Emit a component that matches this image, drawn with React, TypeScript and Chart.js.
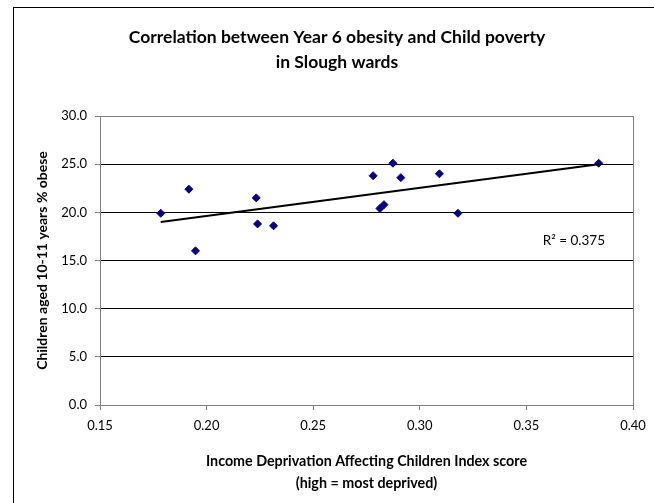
import React, { useEffect, useRef } from "react";
import { Chart, registerables } from "chart.js";

Chart.register(...registerables);

// ---- data ----
const xValues = [0.1785, 0.1917, 0.1948, 0.2233, 0.2239, 0.2314, 0.2781, 0.2813, 0.2832, 0.2874, 0.2911, 0.3092, 0.3179, 0.3839];
const yValues = [19.9, 22.4, 16.0, 21.5, 18.8, 18.6, 23.8, 20.4, 20.8, 25.1, 23.6, 24.0, 19.9, 25.1];
const trendX = [0.1785, 0.3839];
const trendY = [19.0, 25.0];
const titleLines = ["Correlation between Year 6 obesity and Child poverty", "in Slough wards"];
const xTitleLines = ["Income Deprivation Affecting Children Index score", "(high = most deprived)"];
const yTitle = "Children aged 10-11 years % obese";
const r2Label = "R\u00B2 = 0.375";
const xMin = 0.15, xMax = 0.4, xStep = 0.05;
const yMin = 0, yMax = 30, yStep = 5;

const FONT = "Lato, 'Open Sans', sans-serif";

const r2Plugin = {
  id: "r2label",
  afterDatasetsDraw(chart: any) {
    const { ctx, scales } = chart;
    const x = scales.x, y = scales.y;
    ctx.save();
    ctx.font = `13.5px ${FONT}`;
    ctx.fillStyle = "#000";
    ctx.textAlign = "left";
    ctx.textBaseline = "middle";
    ctx.fillText(r2Label, x.getPixelForValue(0.3577), y.getPixelForValue(17.1));
    ctx.restore();
  },
};

export default function App() {
  const ref = useRef<HTMLCanvasElement | null>(null);

  useEffect(() => {
    if (!ref.current) return;
    const points = xValues.map((v, i) => ({ x: v, y: yValues[i] }));
    const trend = trendX.map((v, i) => ({ x: v, y: trendY[i] }));
    const chart = new Chart(ref.current, {
      type: "scatter",
      data: {
        datasets: [
          {
            type: "line",
            data: trend,
            borderColor: "#000",
            borderWidth: 2,
            pointRadius: 0,
            fill: false,
            order: 0,
          } as any,
          {
            type: "scatter",
            data: points,
            pointStyle: "rectRot",
            pointRadius: 4,
            pointBorderWidth: 1,
            backgroundColor: "#000080",
            borderColor: "#000080",
            order: 1,
          } as any,
        ],
      },
      options: {
        responsive: false,
        animation: false,
        layout: { padding: 0 },
        plugins: {
          legend: { display: false },
          tooltip: { enabled: false },
          title: {
            display: true,
            text: titleLines,
            color: "#000",
            font: { family: FONT, size: 17.5, weight: "bold", lineHeight: 25 / 17.5 },
            padding: { top: 16.5, bottom: 41.5 },
          },
        },
        scales: {
          x: {
            type: "linear",
            min: xMin,
            max: xMax,
            afterFit: (s: any) => { s.height = 103; },
            ticks: {
              stepSize: xStep,
              color: "#000",
              font: { family: FONT, size: 13 },
              padding: 8,
              callback: (v: any) => Number(v).toFixed(2),
            },
            grid: {
              color: (c: any) => (Math.abs(c.tick?.value - xMax) < 1e-9 ? "#808080" : "rgba(0,0,0,0)"),
              tickColor: "#808080",
              tickLength: 5,
            },
            border: { color: "#808080", width: 1 },
            title: {
              display: true,
              text: xTitleLines,
              color: "#000",
              font: { family: FONT, size: 14.3, weight: "bold", lineHeight: 22 / 14.3 },
              padding: { top: 0, bottom: 14 },
            },
          },
          y: {
            type: "linear",
            min: yMin,
            max: yMax,
            afterFit: (s: any) => { s.width = 86; },
            ticks: {
              stepSize: yStep,
              color: "#000",
              font: { family: FONT, size: 13 },
              padding: 8,
              callback: (v: any) => Number(v).toFixed(1),
            },
            grid: {
              color: (c: any) => (c.tick?.value === yMax || c.tick?.value === yMin ? "#808080" : "#000000"),
              tickColor: "#808080",
              tickLength: 5,
            },
            border: { color: "#808080", width: 1 },
            title: {
              display: true,
              text: yTitle,
              color: "#000",
              font: { family: FONT, size: 14, weight: "bold", lineHeight: 1.2 },
              padding: { top: 19.6, bottom: 0 },
            },
          },
          yR: {
            type: "linear",
            position: "right",
            display: true,
            afterFit: (s: any) => { s.width = 27; },
            grid: { display: false },
            ticks: { display: false },
            border: { display: false },
          },
        },
      } as any,
      plugins: [r2Plugin],
    });
    let alive = true;
    (document as any).fonts?.ready?.then(() => { if (alive) chart.update(); });
    return () => { alive = false; chart.destroy(); };
  }, []);

  return (
    <div style={{ position: "fixed", left: 0, top: 0, width: 654, height: 503, overflow: "hidden", background: "#fff" }}>
      <div style={{ position: "absolute", left: 13, top: 7, border: "1px solid #000", width: 646, height: 510, background: "#fff" }}>
        <canvas ref={ref} width={646} height={500} style={{ display: "block", width: 646, height: 500 }} />
      </div>
    </div>
  );
}
